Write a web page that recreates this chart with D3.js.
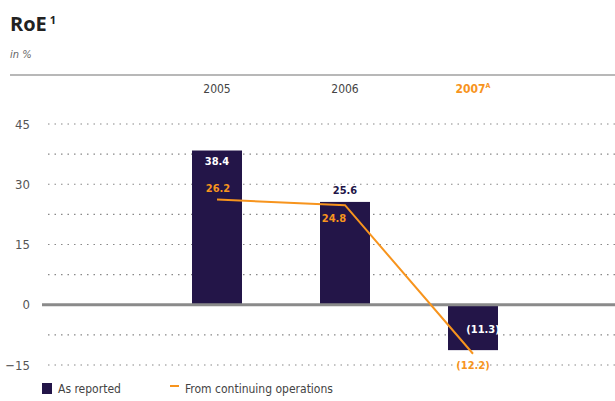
<!DOCTYPE html>
<html><head><meta charset="utf-8">
<script src="https://cdn.jsdelivr.net/npm/d3@7"></script>
<style>body{margin:0;background:#fff}svg{display:block}</style>
</head><body>
<script>
const years = ["2005","2006","2007"];
const yearSuffix = ["","","A"];
const asReported = [38.4, 25.6, -11.3];
const asReportedLabels = ["38.4","25.6","(11.3)"];
const continuing = [26.2, 24.8, -12.2];
const continuingLabels = ["26.2","24.8","(12.2)"];
const yTicks = [45, 30, 15, 0, -15];
const gridValues = [45, 37.5, 30, 22.5, 15, 7.5, -7.5, -15];

const W = 615, H = 401;
const font = "'DejaVu Sans Condensed','Liberation Sans Narrow','Open Sans',sans-serif";
const navy = "#231548", orange = "#f7941d", grey = "#555";

const svg = d3.select("body").append("svg").attr("width", W).attr("height", H)
  .style("font-family", font);

const y = d3.scaleLinear().domain([-15, 45]).range([365, 124]);
const x = d3.scalePoint().domain(years).range([217, 473]);
const barW = 50;

// Title
const t = svg.append("text").attr("x", 10).attr("y", 31).attr("font-size", 20)
  .attr("font-weight", "bold").attr("fill", "#222").attr("font-family", "'Open Sans',sans-serif");
t.append("tspan").text("RoE");
t.append("tspan").attr("dx", 3).attr("dy", -7).attr("font-size", 11).text("1");
svg.append("text").attr("x", 10).attr("y", 58).attr("font-size", 11).attr("font-style", "italic")
  .attr("fill", "#666").text("in %");
svg.append("line").attr("x1", 10).attr("x2", W).attr("y1", 75).attr("y2", 75)
  .attr("stroke", "#a0a0a0").attr("stroke-width", 1.5);

// Year labels
years.forEach((yr, i) => {
  const tx = svg.append("text").attr("x", x(yr)).attr("y", 93).attr("text-anchor", "middle")
    .attr("font-size", 12).attr("fill", i === 2 ? orange : "#444")
    .attr("font-weight", i === 2 ? "bold" : "normal");
  tx.append("tspan").text(yr);
  if (yearSuffix[i]) tx.append("tspan").attr("dy", -5).attr("font-size", 7).text(yearSuffix[i]);
});

// Grid
svg.append("g").selectAll("line").data(gridValues).join("line")
  .attr("x1", 48).attr("x2", W).attr("y1", d => y(d)).attr("y2", d => y(d))
  .attr("stroke", "#888").attr("stroke-width", 1.2).attr("stroke-dasharray", "1.5,5");

// Y axis labels
const yAxis = d3.axisLeft(y).tickValues(yTicks).tickSize(0).tickPadding(0)
  .tickFormat(d => d < 0 ? "\u2212" + Math.abs(d) : d);
const ga = svg.append("g").attr("transform", "translate(30,0)").call(yAxis);
ga.select(".domain").remove();
ga.selectAll("text").attr("font-size", 13).attr("fill", grey).attr("font-family", font);

// Bars
svg.append("g").selectAll("rect").data(asReported).join("rect")
  .attr("x", (d, i) => x(years[i]) - barW / 2)
  .attr("y", d => y(Math.max(0, d)))
  .attr("width", barW)
  .attr("height", d => Math.abs(y(d) - y(0)))
  .attr("fill", navy);

// Zero line
svg.append("line").attr("x1", 42).attr("x2", W).attr("y1", y(0)).attr("y2", y(0))
  .attr("stroke", "#8a8a8a").attr("stroke-width", 3);

// Line
const line = d3.line().x((d, i) => x(years[i])).y(d => y(d));
svg.append("path").datum(continuing).attr("d", line).attr("fill", "none")
  .attr("stroke", orange).attr("stroke-width", 2);

// Bar labels
const barLabelPos = [
  {dx: 0, dy: 14, fill: "#fff"},
  {dx: 0, dy: -8, fill: navy},
  {dx: 10, dy: 0, fill: "#fff"}
];
asReportedLabels.forEach((lab, i) => {
  const p = barLabelPos[i];
  let yy = i === 2 ? y(-7) : y(asReported[i]) + p.dy;
  svg.append("text").attr("x", x(years[i]) + p.dx).attr("y", yy).attr("text-anchor", "middle")
    .attr("font-size", 11).attr("font-weight", "bold").attr("fill", p.fill).text(lab);
});
const lineLabelPos = [{dx: 1, dy: -8}, {dx: -11, dy: 17}, {dx: 0, dy: 15}];
continuingLabels.forEach((lab, i) => {
  const p = lineLabelPos[i];
  svg.append("text").attr("x", x(years[i]) + p.dx).attr("y", y(continuing[i]) + p.dy)
    .attr("text-anchor", "middle").attr("font-size", 11).attr("font-weight", "bold")
    .attr("fill", orange).text(lab);
});

// Legend
svg.append("rect").attr("x", 42).attr("y", 383).attr("width", 10).attr("height", 11).attr("fill", navy);
svg.append("text").attr("x", 58).attr("y", 393).attr("font-size", 12).attr("fill", "#444").text("As reported");
svg.append("line").attr("x1", 170).attr("x2", 179).attr("y1", 386).attr("y2", 386)
  .attr("stroke", orange).attr("stroke-width", 2);
svg.append("text").attr("x", 185).attr("y", 393).attr("font-size", 12).attr("fill", "#444").text("From continuing operations");
</script>
</body></html>
